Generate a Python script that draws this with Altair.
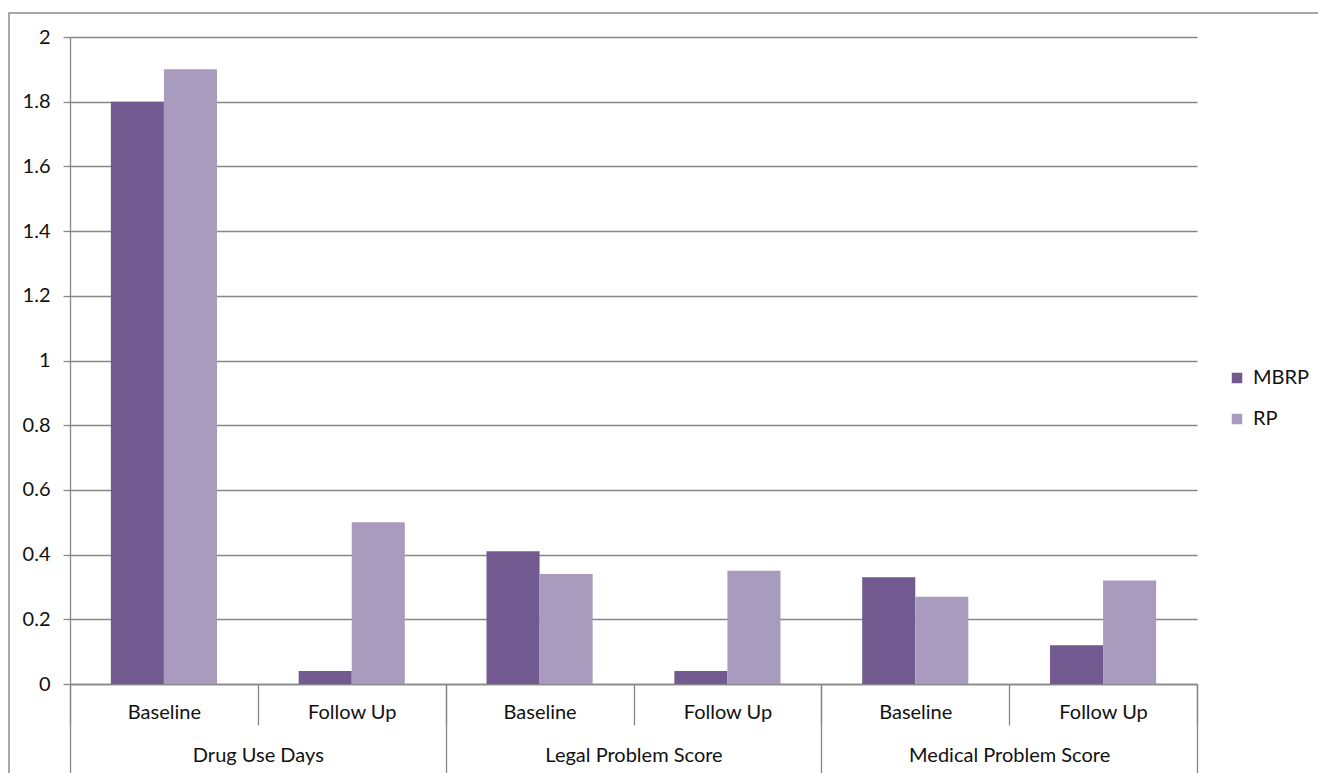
import altair as alt
import pandas as pd

groups = ["Drug Use Days", "Legal Problem Score", "Medical Problem Score"]
phases = ["Baseline", "Follow Up"]
series = ["MBRP", "RP"]
mbrp = [1.8, 0.04, 0.41, 0.04, 0.33, 0.12]
rp = [1.9, 0.5, 0.34, 0.35, 0.27, 0.32]
y_ticks = [0, 0.2, 0.4, 0.6, 0.8, 1.0, 1.2, 1.4, 1.6, 1.8, 2.0]
colors = ["#72598F", "#A99BBD"]

keys = [f"{g}|{p}" for g in groups for p in phases]
rows = []
for i, k in enumerate(keys):
    rows.append({"key": k, "series": "MBRP", "value": mbrp[i]})
    rows.append({"key": k, "series": "RP", "value": rp[i]})
df = pd.DataFrame(rows)
gdf = pd.DataFrame({"group": groups})

FONT = "Lato"
FS = 20
GRID = "#878787"

bars = alt.Chart(df).mark_bar().encode(
    x=alt.X("key:N", sort=keys, title=None,
            scale=alt.Scale(paddingInner=0, paddingOuter=0),
            axis=alt.Axis(orient="bottom", tickBand="extent", tickSize=41, tickColor=GRID,
                          tickWidth=1.3, domainColor=GRID, domainWidth=1.3,
                          labelExpr="split(datum.label, '|')[1]", labelAngle=0,
                          labelFont=FONT, labelFontSize=FS, labelColor="#111",
                          labelPadding=-23, labelLimit=0, labelOverlap=False)),
    xOffset=alt.XOffset("series:N", sort=series,
                        scale=alt.Scale(paddingOuter=0.77, paddingInner=0)),
    y=alt.Y("value:Q", title=None,
            scale=alt.Scale(domain=[0, 2], nice=False),
            axis=alt.Axis(values=y_ticks, format="~g", grid=True, gridColor=GRID,
                          gridWidth=1.3, tickSize=7, tickColor=GRID, tickWidth=1.3,
                          domainColor=GRID, domainWidth=1.3, labelFont=FONT,
                          labelFontSize=FS, labelColor="#111", labelPadding=13)),
    color=alt.Color("series:N", sort=series,
                    scale=alt.Scale(domain=series, range=colors),
                    legend=alt.Legend(title=None, orient="none", legendX=1157, legendY=331,
                                      symbolType="square", symbolSize=110,
                                      symbolStrokeWidth=0, labelFont=FONT,
                                      labelFontSize=FS, labelColor="#111",
                                      rowPadding=21, labelOffset=6)),
)

group_axis = alt.Chart(gdf).mark_point(opacity=0).encode(
    x=alt.X("group:N", sort=groups, title=None,
            scale=alt.Scale(type="band", paddingInner=0, paddingOuter=0),
            axis=alt.Axis(orient="bottom", tickBand="extent", tickSize=89, tickColor=GRID,
                          tickWidth=1.3, domain=False, labelAngle=0,
                          labelFont=FONT, labelFontSize=FS, labelColor="#111",
                          labelPadding=-28, labelLimit=0, labelOverlap=False)),
)

frame = alt.Chart(pd.DataFrame({"a": [0]})).mark_rect(
    fill=None, stroke="#8a8a8a", strokeWidth=1.5
).encode(
    x=alt.value(-61), x2=alt.value(1400), y=alt.value(-24), y2=alt.value(900)
)

chart = alt.layer(frame, bars, group_axis).resolve_scale(x="independent").properties(
    width=1127, height=647,
    autosize=alt.AutoSizeParams(type="none"),
    padding={"left": 70, "top": 37, "right": 121, "bottom": 89},
).configure_view(stroke=None)

chart.save("out.html", embed_options={"renderer": "svg", "actions": False})
